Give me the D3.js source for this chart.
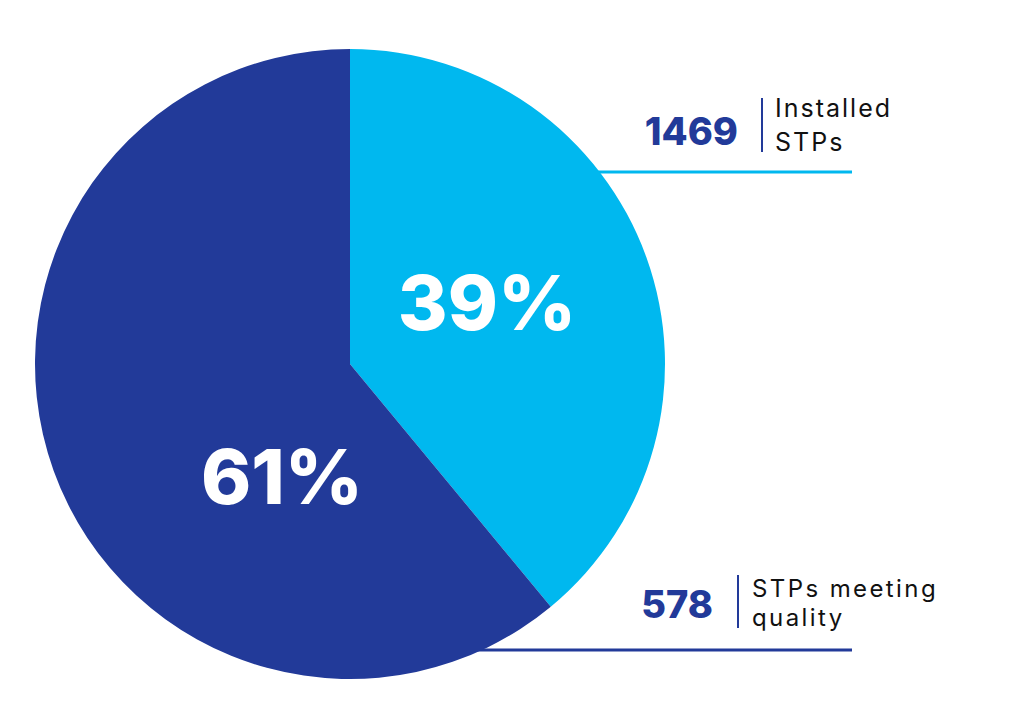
<!DOCTYPE html>
<html>
<head>
<meta charset="utf-8">
<script src="https://cdn.jsdelivr.net/npm/d3@7"></script>
<style>
  body { margin: 0; background: #fff; }
  svg { display: block; font-family: Inter, "Open Sans", sans-serif; }
</style>
</head>
<body>
<div id="chart"></div>
<script>
// slice data
const shares = [39, 61];
const counts = ["1469", "578"];
const captions = [["Installed", "STPs"], ["STPs meeting", "quality"]];
const colors = ["#00b8ef", "#223a99"];

const width = 1024, height = 711;
const cx = 350, cy = 364, radius = 315;

// where the callouts sit (layout only)
const pctPos = [[487, 302], [282, 476]];
const callouts = [
  { lineY: 172, numRight: 738, sepX: 762, sepTop: 98, sepBot: 152, numBase: 145, textX: 775, base1: 117, gap: 34, size: 25, ls: 2 },
  { lineY: 650, numRight: 713, sepX: 738, sepTop: 575, sepBot: 628, numBase: 618, textX: 752, base1: 597, gap: 29, size: 24, ls: 2.4 }
];
const lineEnd = 852;

const svg = d3.select("#chart").append("svg")
  .attr("width", width)
  .attr("height", height);

// leader lines go behind the pie
callouts.forEach((c, i) => {
  svg.append("line")
    .attr("x1", cx).attr("x2", lineEnd)
    .attr("y1", c.lineY).attr("y2", c.lineY)
    .attr("stroke", colors[i])
    .attr("stroke-width", 3);
});

const pie = d3.pie().sort(null).value(d => d);
const arc = d3.arc().innerRadius(0).outerRadius(radius);

const g = svg.append("g").attr("transform", `translate(${cx},${cy})`);
g.selectAll("path")
  .data(pie(shares))
  .enter()
  .append("path")
  .attr("d", arc)
  .attr("fill", (d, i) => colors[i]);

svg.selectAll(".pct")
  .data(shares)
  .enter()
  .append("text").classed("pct", true)
  .attr("x", (d, i) => pctPos[i][0])
  .attr("y", (d, i) => pctPos[i][1])
  .attr("text-anchor", "middle")
  .attr("dominant-baseline", "central")
  .attr("fill", "#fff")
  .attr("font-weight", 800)
  .attr("font-size", 76)
  .text(d => d + "%");

callouts.forEach((c, i) => {
  svg.append("text")
    .attr("x", c.numRight).attr("y", c.numBase)
    .attr("text-anchor", "end")
    .attr("fill", "#223a99")
    .attr("font-weight", 800)
    .attr("font-size", 38)
    .text(counts[i]);

  svg.append("line")
    .attr("x1", c.sepX).attr("x2", c.sepX)
    .attr("y1", c.sepTop).attr("y2", c.sepBot)
    .attr("stroke", "#223a99")
    .attr("stroke-width", 2);

  // two-line caption in one text block
  let cap = svg.append("text")
    .attr("x", c.textX).attr("y", c.base1)
    .attr("fill", "#111")
    .attr("font-size", c.size)
    .attr("letter-spacing", c.ls);
  cap.selectAll("tspan")
    .data(captions[i])
    .enter()
    .append("tspan")
    .attr("x", c.textX)
    .attr("dy", (d, j) => j ? c.gap : 0)
    .text(d => d);
});
</script>
</body>
</html>
